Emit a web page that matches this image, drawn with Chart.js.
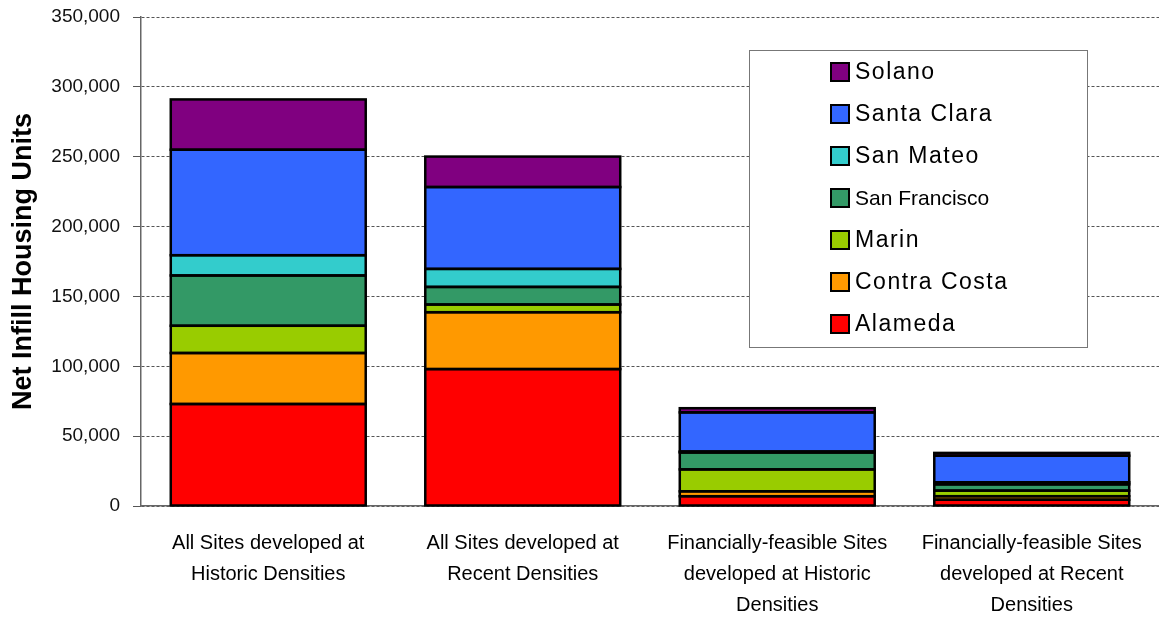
<!DOCTYPE html>
<html>
<head>
<meta charset="utf-8">
<script src="https://cdn.jsdelivr.net/npm/chart.js@4/dist/chart.umd.min.js"></script>
<style>
  html, body { margin: 0; padding: 0; background: #fff; }
  #wrap { width: 1159px; height: 620px; position: relative; }
</style>
</head>
<body>
<div id="wrap"><canvas id="chart" width="1159" height="620"></canvas></div>
<script>
// Scenario categories (multi-line axis labels)
const categories = [
  ["All Sites developed at", "Historic Densities"],
  ["All Sites developed at", "Recent Densities"],
  ["Financially-feasible Sites", "developed at Historic", "Densities"],
  ["Financially-feasible Sites", "developed at Recent", "Densities"]
];

// Net infill housing units by county, stacked bottom to top
const alameda      = [73000, 98000, 7000, 4500];
const contraCosta  = [36500, 40700, 3500, 2500];
const marin        = [19500, 5500, 15700, 4000];
const sanFrancisco = [36000, 12600, 12100, 4500];
const sanMateo     = [14500, 12900, 700, 1500];
const santaClara   = [75500, 58600, 28000, 19000];
const solano       = [36000, 21800, 3000, 2000];

const yTicks = [0, 50000, 100000, 150000, 200000, 250000, 300000, 350000];

const seriesDefs = [
  { label: "Alameda",       data: alameda,      color: "#FF0000" },
  { label: "Contra Costa",  data: contraCosta,  color: "#FF9900" },
  { label: "Marin",         data: marin,        color: "#99CC00" },
  { label: "San Francisco", data: sanFrancisco, color: "#339966" },
  { label: "San Mateo",     data: sanMateo,     color: "#33CCCC" },
  { label: "Santa Clara",   data: santaClara,   color: "#3366FF" },
  { label: "Solano",        data: solano,       color: "#800080" }
];

// Solid black outline around every stacked segment, centred on its edges
const segmentOutlines = {
  id: "segmentOutlines",
  afterDatasetsDraw(chart, args, opts) {
    const ctx = chart.ctx;
    ctx.save();
    ctx.strokeStyle = opts.color;
    ctx.lineWidth = opts.width;
    ctx.lineJoin = "miter";
    chart.data.datasets.forEach((ds, i) => {
      chart.getDatasetMeta(i).data.forEach(bar => {
        const p = bar.getProps(["x", "y", "base", "width"], true);
        ctx.strokeRect(p.x - p.width / 2, Math.min(p.y, p.base), p.width, Math.abs(p.base - p.y));
      });
    });
    ctx.restore();
  }
};

// Boxed legend drawn inside the plot area, top series listed first
const boxedLegend = {
  id: "boxedLegend",
  afterDraw(chart, args, opts) {
    const ctx = chart.ctx;
    const ca = chart.chartArea;
    const x0 = ca.left + opts.offsetX, y0 = ca.top + opts.offsetY;
    ctx.save();
    ctx.fillStyle = "#fff";
    ctx.fillRect(x0, y0, opts.width, opts.height);
    ctx.strokeStyle = "#777";
    ctx.lineWidth = 1;
    ctx.strokeRect(x0 + 0.5, y0 + 0.5, opts.width, opts.height);
    const items = chart.data.datasets.slice().reverse();
    ctx.textBaseline = "middle";
    ctx.textAlign = "left";
    items.forEach((ds, i) => {
      const cy = y0 + opts.firstRow + i * opts.rowGap;
      ctx.fillStyle = ds.backgroundColor;
      ctx.fillRect(x0 + opts.swatchX, cy - 9, 18, 18);
      ctx.strokeStyle = "#000";
      ctx.lineWidth = 2;
      ctx.strokeRect(x0 + opts.swatchX, cy - 9, 18, 18);
      ctx.fillStyle = "#000";
      if (ds.label === "San Francisco") {
        ctx.font = "21px 'Liberation Sans', Arial, sans-serif";
        ctx.letterSpacing = "0px";
      } else {
        ctx.font = "23px 'Liberation Sans', Arial, sans-serif";
        ctx.letterSpacing = "1.5px";
      }
      ctx.fillText(ds.label, x0 + opts.textX, cy + 1);
    });
    ctx.restore();
  }
};

new Chart(document.getElementById("chart"), {
  type: "bar",
  data: {
    labels: categories,
    datasets: seriesDefs.map(s => ({
      label: s.label,
      data: s.data,
      backgroundColor: s.color,
      borderWidth: 0,
      barPercentage: 0.766,
      categoryPercentage: 1.0
    }))
  },
  plugins: [segmentOutlines, boxedLegend],
  options: {
    responsive: false,
    animation: false,
    layout: { padding: { top: 17, right: 0, left: 0, bottom: 0 } },
    plugins: {
      legend: { display: false },
      tooltip: { enabled: false },
      segmentOutlines: { color: "#000", width: 2.5 },
      boxedLegend: {
        offsetX: 608, offsetY: 33, width: 338, height: 297,
        swatchX: 82, textX: 106, firstRow: 22, rowGap: 42
      }
    },
    scales: {
      x: {
        stacked: true,
        grid: { display: false, drawTicks: false },
        border: { display: true, color: "#666", width: 1.5 },
        ticks: {
          color: "#000",
          padding: 22,
          maxRotation: 0,
          autoSkip: false,
          font: { family: "'Liberation Sans', Arial, sans-serif", size: 20, lineHeight: "31px" }
        },
        afterFit(scale) {
          scale.height = 114;
          scale.paddingLeft = 0;
          scale.paddingRight = 0;
        }
      },
      y: {
        stacked: true,
        min: 0,
        max: 350000,
        afterBuildTicks(scale) { scale.ticks = yTicks.map(v => ({ value: v })); },
        grid: {
          color: "#555",
          lineWidth: 1,
          tickLength: 8,
          tickColor: "#555",
          tickBorderDash: []
        },
        border: { display: true, color: "#666", width: 1.5, dash: [3, 2] },
        ticks: {
          color: "#111",
          padding: 13,
          font: { family: "'Liberation Sans', Arial, sans-serif", size: 19 },
          callback: v => v.toLocaleString("en-US")
        },
        title: {
          display: true,
          text: "Net Infill Housing Units",
          color: "#000",
          padding: { top: 7, bottom: 0 },
          font: { family: "'Liberation Sans', Arial, sans-serif", size: 27, weight: "bold" }
        },
        afterFit(scale) {
          scale.width = 141;
          scale.paddingTop = 0;
          scale.paddingBottom = 0;
        }
      }
    }
  }
});
</script>
</body>
</html>
